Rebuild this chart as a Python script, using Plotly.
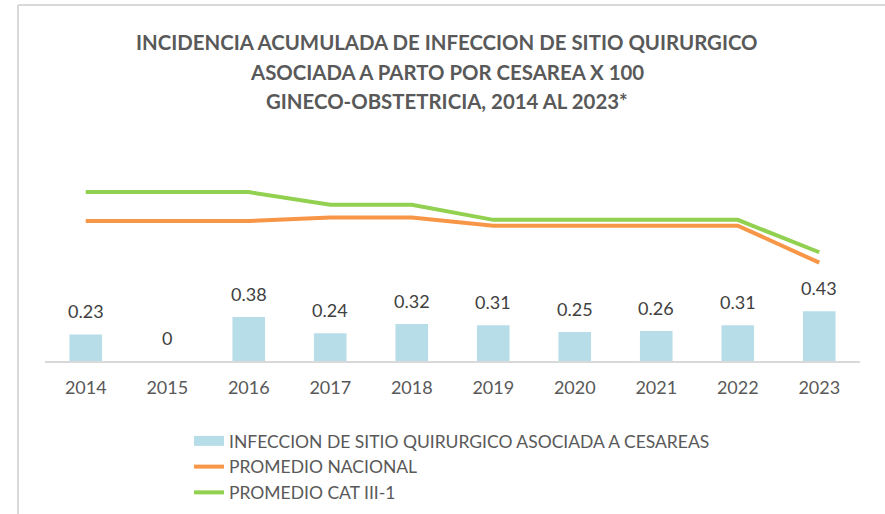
import plotly.graph_objects as go

years = ["2014", "2015", "2016", "2017", "2018", "2019", "2020", "2021", "2022", "2023"]
infeccion = [0.23, 0, 0.38, 0.24, 0.32, 0.31, 0.25, 0.26, 0.31, 0.43]
promedio_nacional = [1.21, 1.21, 1.21, 1.24, 1.24, 1.17, 1.17, 1.17, 1.17, 0.85]
promedio_cat = [1.46, 1.46, 1.46, 1.35, 1.35, 1.22, 1.22, 1.22, 1.22, 0.94]
title_lines = [
    "INCIDENCIA ACUMULADA DE INFECCION DE SITIO QUIRURGICO",
    "ASOCIADA A PARTO POR CESAREA X 100",
    "GINECO-OBSTETRICIA, 2014 AL 2023*",
]
names = ["INFECCION DE SITIO QUIRURGICO ASOCIADA A CESAREAS", "PROMEDIO NACIONAL", "PROMEDIO CAT III-1"]

W, H = 885, 514
L, R, T, B = 45, 25, 150, 153
PW, PH = W - L - R, H - T - B
YMAX = PH / 115.7
FONT = "Lato"
BAR_COLOR = "#b7dde8"

def px_x(p):
    return (p - L) / PW

def px_y(p):
    return (H - B - p) / PH

fig = go.Figure()
fig.add_trace(go.Bar(x=years, y=infeccion, name=names[0], marker_color=BAR_COLOR,
                     marker_line_width=0, legendgroup="bar", showlegend=False))
# legend entry for the bars drawn as a wide swatch (no data points)
fig.add_trace(go.Scatter(x=[None], y=[None], name=names[0], mode="lines",
                         line=dict(color=BAR_COLOR, width=10), legendgroup="bar"))
fig.add_trace(go.Scatter(x=years, y=promedio_nacional, name=names[1], mode="lines",
                         line=dict(color="#f79646", width=4)))
fig.add_trace(go.Scatter(x=years, y=promedio_cat, name=names[2], mode="lines",
                         line=dict(color="#92d050", width=4)))

annotations = []
for i, v in enumerate(infeccion):
    annotations.append(dict(x=i, y=v, xref="x", yref="y", text=f"{v:g}", showarrow=False,
                            yanchor="middle", yshift=23,
                            font=dict(family=FONT, size=18, color="#404040")))
for i, line in enumerate(title_lines):
    annotations.append(dict(x=px_x(447), y=px_y(42 + 29.5 * i), xref="paper", yref="paper",
                            text=f"<b>{line}</b>", showarrow=False, xanchor="center",
                            yanchor="middle", font=dict(family=FONT, size=20.4, color="#595959")))

shapes = [
    dict(type="line", xref="paper", yref="paper", x0=px_x(18), x1=px_x(W + 5), y0=px_y(5), y1=px_y(5),
         line=dict(color="#d9d9d9", width=2)),
    dict(type="line", xref="paper", yref="paper", x0=px_x(18), x1=px_x(18), y0=px_y(5), y1=px_y(H + 5),
         line=dict(color="#d9d9d9", width=2)),
]

fig.update_layout(
    width=W, height=H,
    margin=dict(l=L, r=R, t=T, b=B, autoexpand=False),
    paper_bgcolor="white", plot_bgcolor="white",
    bargap=0.6,
    showlegend=True,
    legend=dict(xref="container", yref="container", x=189 / W, y=1 - 423 / H,
                xanchor="left", yanchor="top", orientation="v",
                font=dict(family=FONT, size=17.5, color="#595959"), traceorder="normal"),
    xaxis=dict(type="category", showgrid=False, showline=True, linecolor="#d9d9d9", linewidth=2,
               tickfont=dict(family=FONT, size=18, color="#595959"), ticks="",
               ticklabelstandoff=9, zeroline=False, automargin=False),
    yaxis=dict(range=[0, YMAX], visible=False, showgrid=False, zeroline=False, automargin=False),
    annotations=annotations,
    shapes=shapes,
    hovermode=False,
)

fig.write_html("out.html", config={"displayModeBar": False},
               post_script="document.body.style.margin='0';document.body.style.padding='0';")
